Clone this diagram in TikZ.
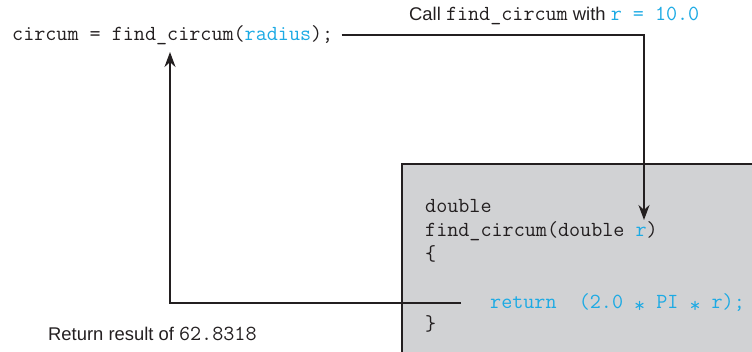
\documentclass[tikz,border=0pt]{standalone}
\usepackage{fontspec}
\setmainfont{Liberation Sans}
\usetikzlibrary{arrows.meta}
\definecolor{codeblue}{RGB}{28,170,228}
\definecolor{boxgray}{RGB}{209,210,212}
\definecolor{inkdark}{RGB}{35,31,32}
\newcommand{\codett}[1]{{\fontsize{21.5}{24}\selectfont\ttfamily #1}}
\newcommand{\codestar}{\raisebox{-0.22em}{*}}
\tikzset{
  codeline/.style={anchor=base west, inner sep=0pt, text=inkdark, font=\fontsize{21.5}{24}\selectfont\ttfamily},
  noteline/.style={anchor=base west, inner sep=0pt, text=inkdark, font=\fontsize{18.4}{22}\selectfont},
  flow/.style={->, line width=2pt, draw=inkdark},
}
\begin{document}
\begin{tikzpicture}[x=1pt, y=-1pt, >={Stealth[length=15pt, width=11pt]}]
\useasboundingbox (0,0) rectangle (752,351);
\fill[boxgray] (402,164) rectangle (770,370);
\draw[line width=2pt, inkdark] (770,164) -- (402,164) -- (402,370);
\node[codeline] (callstmt) at (12,40) {circum = find\_circum(\textcolor{codeblue}{radius});};
\node[noteline] (callnote) at (409,20.5) {Call \codett{find\_circum} with \codett{\textcolor{codeblue}{r = 10.0}}};
\node[codeline] (funtype) at (425,212.5) {double};
\node[codeline] (funhead) at (425,236.5) {find\_circum(double \textcolor{codeblue}{r})};
\node[codeline] (funopen) at (425,260.5) {\{};
\node[codeline, text=codeblue] (retline) at (490,308) {return\ \ (2.0 \codestar{} PI \codestar{} r);};
\node[codeline] (funclose) at (425,330.5) {\}};
\node[noteline] (retnote) at (48,340) {Return result of \codett{62.8318}};
\coordinate (rarg) at (644,220);
\coordinate (callsite) at (170,52);
\draw[flow, shorten <=8pt] (callstmt.east) -| (rarg);
\draw[flow, shorten <=29pt] (retline.west) -| (callsite);
\end{tikzpicture}
\end{document}
